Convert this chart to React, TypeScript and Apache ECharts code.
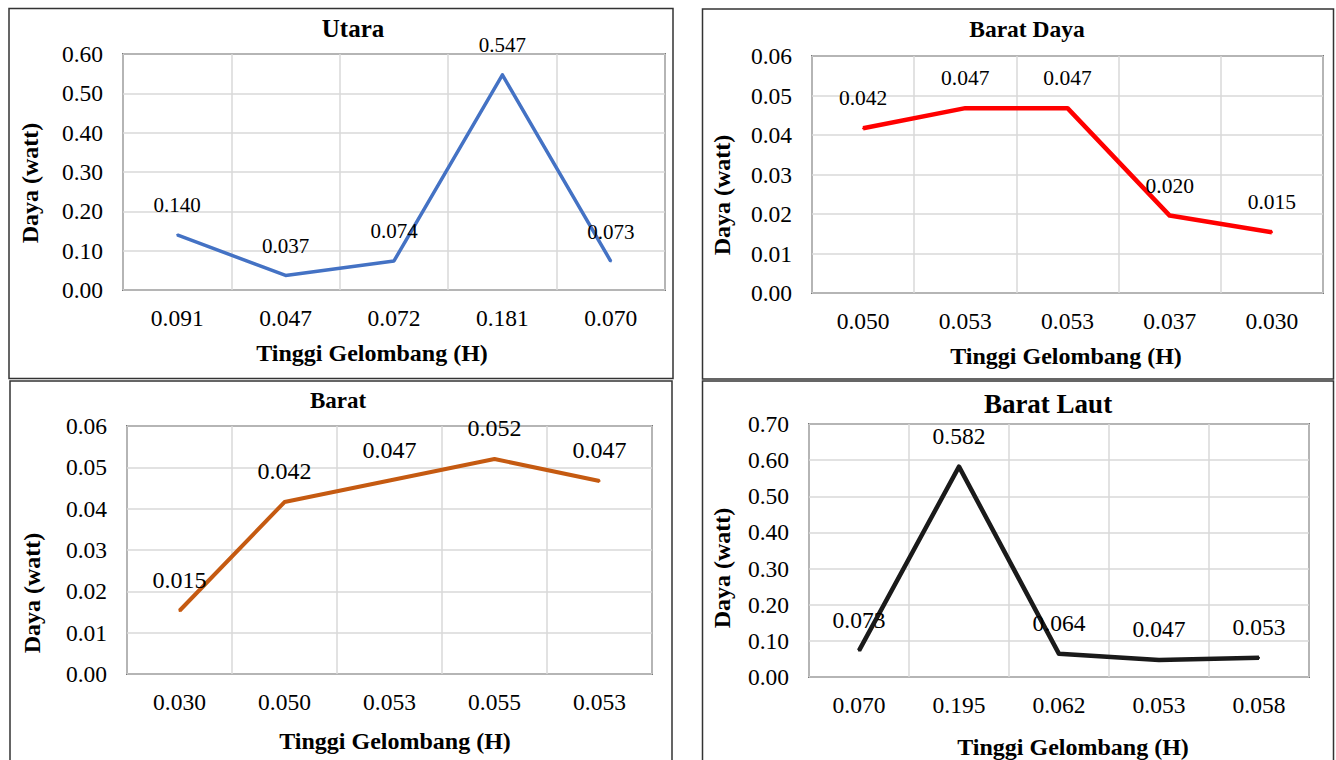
import React, { useEffect, useRef } from 'react';
import * as echarts from 'echarts';

const FONT = 'Liberation Serif, Times New Roman, serif';

// ---- Data ----
const titles = ['Utara', 'Barat Daya', 'Barat', 'Barat Laut'];
const xAxisTitle = 'Tinggi Gelombang (H)';
const yAxisTitle = 'Daya (watt)';

const utaraCategories = ['0.091', '0.047', '0.072', '0.181', '0.070'];
const utaraValues = [0.14, 0.037, 0.074, 0.547, 0.073];

const baratDayaCategories = ['0.050', '0.053', '0.053', '0.037', '0.030'];
const baratDayaValues = [0.0417, 0.0468, 0.0468, 0.0196, 0.0154];

const baratCategories = ['0.030', '0.050', '0.053', '0.055', '0.053'];
const baratValues = [0.0153, 0.0416, 0.0468, 0.052, 0.0467];

const baratLautCategories = ['0.070', '0.195', '0.062', '0.053', '0.058'];
const baratLautValues = [0.073, 0.582, 0.064, 0.047, 0.053];

// y-axis ranges [min, max, interval]
const utaraYRange = [0, 0.6, 0.1];
const baratDayaYRange = [0, 0.06, 0.01];
const baratYRange = [0, 0.06, 0.01];
const baratLautYRange = [0, 0.7, 0.1];

const seriesColors = ['#4472C4', '#FF0000', '#C55A11', '#1A1A1A'];

// ---- Layout (positions/styles) ----
const panels = [
  {
    cats: utaraCategories, vals: utaraValues, yr: utaraYRange,
    grid: { left: 123, top: 54, width: 542, height: 236 },
    box: { x: 9, y: 8.5, width: 664, height: 370 },
    title: { x: 353, top: 16, size: 25 },
    xName: { x: 372, y: 353 }, yName: { x: 30, y: 183 },
    lw: 3.5, labelSize: 21,
  },
  {
    cats: baratDayaCategories, vals: baratDayaValues, yr: baratDayaYRange,
    grid: { left: 812, top: 56, width: 511, height: 237 },
    box: { x: 702.5, y: 9, width: 631, height: 370 },
    title: { x: 1027, top: 17, size: 23.5 },
    xName: { x: 1066, y: 356 }, yName: { x: 722, y: 195 },
    lw: 4.5, labelSize: 21.5,
  },
  {
    cats: baratCategories, vals: baratValues, yr: baratYRange,
    grid: { left: 127, top: 426, width: 525, height: 248 },
    box: { x: 10, y: 381, width: 662, height: 390 },
    title: { x: 338, top: 389, size: 23 },
    xName: { x: 395, y: 741 }, yName: { x: 32, y: 593 },
    lw: 4, labelSize: 24,
  },
  {
    cats: baratLautCategories, vals: baratLautValues, yr: baratLautYRange,
    grid: { left: 809, top: 424, width: 500, height: 253 },
    box: { x: 702.5, y: 381, width: 631, height: 390 },
    title: { x: 1048, top: 390, size: 27 },
    xName: { x: 1073, y: 747 }, yName: { x: 722, y: 568 },
    lw: 4.5, labelSize: 23.5,
  },
];

function buildOption() {
  const grid: any[] = [];
  const xAxis: any[] = [];
  const yAxis: any[] = [];
  const series: any[] = [];
  const title: any[] = [];
  const graphic: any[] = [];

  panels.forEach((p, i) => {
    grid.push({
      ...p.grid,
      show: true,
      borderColor: '#111',
      borderWidth: 1.5,
      backgroundColor: 'transparent',
      containLabel: false,
    });
    xAxis.push({
      type: 'category',
      gridIndex: i,
      data: p.cats,
      boundaryGap: true,
      axisLine: { show: false },
      axisTick: { show: false },
      axisLabel: { fontFamily: FONT, fontSize: 23.5, color: '#000', margin: 16, interval: 0 },
      splitLine: { show: true, interval: 0, lineStyle: { color: '#d9d9d9', width: 1.5 } },
    });
    yAxis.push({
      type: 'value',
      gridIndex: i,
      min: p.yr[0],
      max: p.yr[1],
      interval: p.yr[2],
      axisLine: { show: false },
      axisTick: { show: false },
      axisLabel: {
        fontFamily: FONT, fontSize: 23.5, color: '#000', margin: 20,
        formatter: (v: number) => v.toFixed(2),
      },
      splitLine: { show: true, lineStyle: { color: '#d9d9d9', width: 1.5 } },
    });
    series.push({
      type: 'line',
      xAxisIndex: i,
      yAxisIndex: i,
      data: p.vals,
      symbol: 'circle',
      symbolSize: 2,
      showSymbol: true,
      itemStyle: { color: seriesColors[i] },
      lineStyle: { color: seriesColors[i], width: p.lw, cap: 'butt', join: 'round' },
      label: {
        show: true,
        position: 'top',
        distance: 18,
        fontFamily: FONT,
        fontSize: p.labelSize,
        color: '#000',
        formatter: (d: any) => Number(d.value).toFixed(3),
      },
      z: 3,
    });
    title.push({
      text: titles[i],
      left: p.title.x,
      top: p.title.top,
      textAlign: 'center',
      padding: 0,
      textStyle: { fontFamily: FONT, fontWeight: 'bold', fontSize: p.title.size, color: '#000' },
    });
    graphic.push({
      type: 'rect',
      shape: p.box,
      style: { fill: 'none', stroke: '#333', lineWidth: 1.5 },
      silent: true,
      z: 0,
    });
    graphic.push({
      type: 'text',
      x: p.xName.x,
      y: p.xName.y,
      style: {
        text: xAxisTitle, fontFamily: FONT, fontWeight: 'bold', fontSize: 24,
        fill: '#000', align: 'center', verticalAlign: 'middle',
      },
    });
    graphic.push({
      type: 'text',
      x: p.yName.x,
      y: p.yName.y,
      rotation: Math.PI / 2,
      style: {
        text: yAxisTitle, fontFamily: FONT, fontWeight: 'bold', fontSize: 24,
        fill: '#000', align: 'center', verticalAlign: 'middle',
      },
    });
  });

  return {
    animation: false,
    backgroundColor: '#fff',
    textStyle: { fontFamily: FONT },
    title,
    grid,
    xAxis,
    yAxis,
    series,
    graphic: { elements: graphic },
  };
}

export default function App() {
  const ref = useRef<HTMLDivElement>(null);
  useEffect(() => {
    if (!ref.current) return;
    const chart = echarts.init(ref.current, undefined, { renderer: 'svg' });
    chart.setOption(buildOption() as any);
    return () => chart.dispose();
  }, []);
  return (
    <div
      ref={ref}
      style={{ position: 'fixed', left: 0, top: 0, width: 1336, height: 760, background: '#fff' }}
    />
  );
}
